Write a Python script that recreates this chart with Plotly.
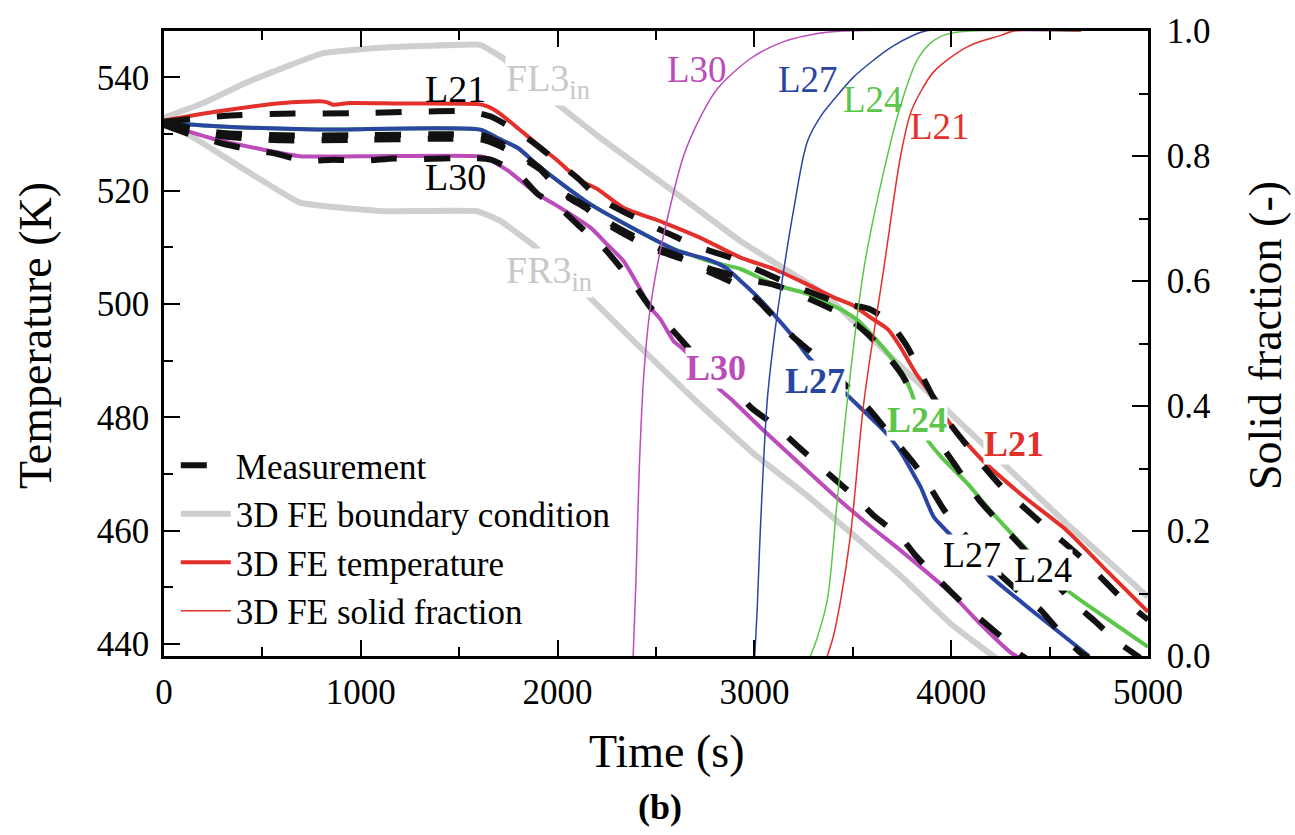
import plotly.graph_objects as go

# ---------------- data (time in s, temperature in K, solid fraction -) ----------------
# 3D FE boundary conditions
fl3_t = [0, 200, 400, 605, 809, 1114, 1592, 1623, 1724, 1948, 2218, 2589, 2930, 3352, 3700, 3981, 4586, 5000]
fl3_T = [532.9, 535.5, 538.8, 541.7, 544.3, 545.3, 545.8, 545.5, 543.4, 536.7, 529.3, 519.9, 511.1, 501.8, 490.5, 481.2, 461.3, 448.3]
fr3_t = [0, 183, 692, 1114, 1592, 1709, 1862, 2000, 2131, 2386, 2691, 3000, 3286, 3744, 4000, 4201, 4230]
fr3_T = [532.4, 528.7, 517.9, 516.4, 516.4, 514.7, 510.8, 506.5, 502.3, 493.5, 483.3, 473.5, 465.7, 452.0, 443.5, 438.2, 437.5]

# 3D FE temperature
l21_t = [0, 268, 605, 793, 830, 860, 946, 1200, 1592, 1643, 1700, 1800, 1897, 2000, 2116, 2203, 2335, 2538, 2726, 2930, 3098, 3250, 3403, 3500, 3591, 3680, 3744, 3820, 3896, 3994, 4160, 4370, 4586, 4800, 5000]
l21_T = [532.4, 534.0, 535.5, 535.8, 535.6, 535.2, 535.5, 535.4, 535.3, 534.9, 533.8, 531.0, 528.2, 525.3, 521.8, 520.3, 517.0, 514.4, 511.7, 508.2, 506.2, 503.8, 501.2, 499.8, 497.6, 495.5, 492.3, 487.8, 484.2, 478.9, 472.4, 466.0, 460.1, 452.6, 445.7]
l24_t = [0, 268, 777, 1607, 1700, 1800, 1900, 2030, 2167, 2350, 2508, 2600, 2700, 2800, 2930, 3098, 3270, 3350, 3454, 3530, 3591, 3650, 3708, 3760, 3794, 3840, 3881, 3950, 4081, 4200, 4370, 4586, 4800, 5000]
l24_T = [532.0, 531.4, 530.8, 530.8, 529.2, 527.5, 524.5, 521.0, 517.6, 514.0, 511.1, 509.6, 508.4, 507.3, 506.2, 503.5, 501.8, 500.5, 498.8, 497.0, 494.8, 492.5, 490.0, 487.3, 484.8, 480.0, 476.0, 473.0, 468.4, 463.5, 457.2, 449.6, 444.3, 439.5]
l27_t = [0, 268, 777, 1607, 1700, 1800, 1900, 2030, 2167, 2350, 2508, 2609, 2762, 2850, 2930, 3010, 3098, 3200, 3276, 3370, 3464, 3560, 3657, 3744, 3800, 3845, 3912, 3998, 4100, 4201, 4400, 4660, 4700]
l27_T = [532.0, 531.4, 530.8, 530.8, 529.2, 527.5, 524.5, 521.0, 517.6, 514.0, 511.1, 509.4, 507.9, 506.5, 504.1, 501.5, 498.2, 494.1, 490.6, 487.4, 484.2, 481.0, 477.7, 473.9, 470.5, 467.7, 462.4, 459.2, 455.3, 451.9, 446.2, 439.0, 437.9]
l30_t = [0, 268, 500, 692, 1000, 1607, 1643, 1750, 1897, 2000, 2167, 2253, 2335, 2406, 2472, 2523, 2589, 2640, 2813, 2879, 3047, 3200, 3423, 3600, 3744, 3998, 4150, 4303, 4350]
l30_T = [531.8, 529.0, 527.3, 526.1, 526.1, 526.1, 525.7, 523.5, 519.4, 517.3, 513.5, 510.5, 507.6, 503.5, 499.4, 497.3, 493.5, 492.0, 485.3, 483.3, 477.7, 472.8, 465.7, 460.5, 456.5, 449.0, 443.5, 438.5, 437.5]

# Measurements
m21_t = [0, 300, 600, 1000, 1550, 1660, 1800, 1900, 2010, 2100, 2220, 2450, 2610, 2730, 2880, 3000, 3150, 3270, 3400, 3500, 3580, 3650, 3710, 3780, 3840, 3910, 4000, 4160, 4250, 4370, 4540, 4660, 4760, 4860, 4960, 5000]
m21_T = [532.2, 533.2, 533.6, 533.7, 534.0, 533.1, 530.4, 527.9, 524.8, 522.3, 518.5, 514.3, 511.7, 509.9, 508.2, 506.3, 504.0, 502.3, 500.6, 499.8, 499.2, 497.8, 495.8, 492.3, 488.2, 483.5, 478.6, 471.6, 468.0, 464.1, 458.9, 455.3, 451.8, 448.3, 445.4, 444.3]
m24_t = [0, 150, 300, 600, 1000, 1400, 1620, 1700, 1810, 1910, 2030, 2150, 2290, 2490, 2630, 2750, 2950, 3100, 3190, 3300, 3400, 3460, 3570, 3650, 3750, 3850, 3920, 3980, 4050, 4140, 4235, 4430, 4625, 4725, 4845, 4960]
m24_T = [532.0, 531.0, 530.2, 529.8, 529.8, 530.0, 529.8, 528.6, 526.5, 524.0, 519.6, 517.2, 513.8, 510.2, 508.3, 506.5, 504.5, 503.4, 502.3, 500.6, 499.0, 498.0, 494.9, 492.0, 487.5, 481.0, 476.5, 473.6, 470.1, 465.5, 461.8, 454.5, 447.2, 444.2, 440.4, 437.6]
m27_t = [0, 150, 300, 600, 1000, 1400, 1620, 1700, 1810, 1910, 2030, 2150, 2290, 2490, 2630, 2750, 2900, 3000, 3120, 3200, 3300, 3400, 3500, 3600, 3700, 3810, 3880, 3965, 4050, 4150, 4250, 4355, 4455, 4575, 4660, 4700]
m27_T = [531.8, 530.8, 529.6, 528.9, 529.0, 529.2, 529.0, 528.0, 526.0, 523.8, 519.4, 516.8, 513.3, 509.7, 508.0, 506.0, 503.6, 501.2, 497.0, 494.1, 491.2, 487.8, 484.5, 480.8, 476.5, 471.9, 468.4, 463.6, 460.1, 456.0, 452.2, 448.9, 446.0, 441.2, 438.4, 437.5]
m30_t = [0, 130, 300, 420, 575, 710, 860, 1010, 1170, 1300, 1540, 1660, 1800, 1900, 2030, 2100, 2233, 2386, 2472, 2574, 2700, 2894, 2981, 3118, 3199, 3301, 3398, 3515, 3606, 3744, 3810, 3912, 4014, 4125, 4227, 4293, 4338, 4380]
m30_T = [531.6, 530.0, 528.3, 527.4, 526.5, 525.3, 525.5, 525.3, 525.7, 525.6, 525.8, 525.5, 523.0, 519.4, 516.4, 514.1, 510.0, 503.6, 499.4, 495.8, 491.0, 485.3, 481.8, 478.2, 475.6, 472.4, 469.4, 465.9, 462.7, 458.9, 456.0, 452.2, 448.7, 445.1, 442.1, 440.2, 438.5, 437.5]

# 3D FE solid fraction
f30_t = [2384, 2398, 2415, 2438, 2468, 2510, 2558, 2640, 2730, 2813, 2981, 3149, 3321, 3450, 4660]
f30_v = [0.0, 0.12, 0.30, 0.45, 0.55, 0.63, 0.70, 0.80, 0.865, 0.908, 0.956, 0.983, 0.996, 1.0, 1.0]
f27_t = [3002, 3015, 3030, 3065, 3098, 3133, 3201, 3269, 3340, 3403, 3500, 3600, 3700, 3800, 3870, 4660]
f27_v = [0.0, 0.08, 0.20, 0.408, 0.504, 0.584, 0.717, 0.823, 0.865, 0.89, 0.925, 0.952, 0.975, 0.992, 1.0, 1.0]
f24_t = [3285, 3320, 3370, 3421, 3472, 3556, 3657, 3744, 3830, 3912, 4008, 4660]
f24_v = [0.0, 0.03, 0.089, 0.249, 0.408, 0.619, 0.775, 0.882, 0.955, 0.985, 0.997, 1.0]
f21_t = [3370, 3400, 3438, 3489, 3557, 3657, 3744, 3795, 3840, 3912, 4084, 4252, 4320, 4660]
f21_v = [0.0, 0.03, 0.089, 0.195, 0.408, 0.619, 0.802, 0.87, 0.90, 0.935, 0.975, 0.993, 1.0, 1.0]

# ---------------- styles ----------------
RED = "#e3302a"
GREEN = "#5cc64b"
BLUE = "#2b45a3"
MAG = "#bb4cba"
GRAY = "#cfcfcf"
FONT = "Liberation Serif"
DASH = "26px,27px"

fig = go.Figure()

def add(x, y, color, width, name=None, legend=False, dash=None, yaxis="y", rank=None, smooth=0.6):
    fig.add_trace(go.Scatter(
        x=x, y=y, mode="lines", yaxis=yaxis,
        line=dict(color=color, width=width, dash=dash, shape="spline", smoothing=smooth),
        name=name, showlegend=legend, legendrank=rank if rank else 1000,
        hoverinfo="skip"))

add(fl3_t, fl3_T, GRAY, 6, "3D FE boundary condition", True, rank=2, smooth=0.3)
add(fr3_t, fr3_T, GRAY, 6, smooth=0.3)
add(l30_t, l30_T, MAG, 4)
add(l24_t, l24_T, GREEN, 4)
add(l27_t, l27_T, BLUE, 4)
add(l21_t, l21_T, RED, 4, "3D FE temperature", True, rank=3)
add(m30_t, m30_T, "#111111", 6, dash=DASH)
add(m27_t, m27_T, "#111111", 6, dash=DASH)
add(m24_t, m24_T, "#111111", 6, dash=DASH)
add(m21_t, m21_T, "#111111", 6, "Measurement", True, dash=DASH, rank=1)
add(f30_t, f30_v, MAG, 1.5, yaxis="y2", smooth=0.9)
add(f27_t, f27_v, BLUE, 1.5, yaxis="y2", smooth=0.9)
add(f24_t, f24_v, GREEN, 1.5, yaxis="y2", smooth=0.9)
add(f21_t, f21_v, RED, 1.5, "3D FE solid fraction", True, yaxis="y2", rank=4, smooth=0.9)

tickfont = dict(family=FONT, size=35, color="black")

fig.update_layout(
    width=1295, height=835,
    margin=dict(l=164, r=147, t=29, b=179),
    paper_bgcolor="white", plot_bgcolor="white",
    font=dict(family=FONT, color="black"),
    showlegend=True,
    legend=dict(x=0.012, y=0.352, xanchor="left", yanchor="top",
                bgcolor="rgba(0,0,0,0)", font=dict(family=FONT, size=35, color="black"),
                tracegroupgap=0, itemwidth=50),
    xaxis=dict(range=[0, 5000], tickvals=[0, 1000, 2000, 3000, 4000, 5000],
               ticks="inside", ticklen=16, tickwidth=2, tickcolor="black",
               minor=dict(dtick=500, ticks="inside", ticklen=9, tickwidth=2, tickcolor="black"),
               showline=True, linewidth=2.5, linecolor="black", mirror="ticks",
               showgrid=False, zeroline=False, tickfont=tickfont, ticklabelstandoff=3),
    yaxis=dict(range=[437.9, 548.2], tickvals=[440, 460, 480, 500, 520, 540],
               ticks="inside", ticklen=16, tickwidth=2, tickcolor="black",
               minor=dict(dtick=10, ticks="inside", ticklen=9, tickwidth=2, tickcolor="black"),
               showline=True, linewidth=2.5, linecolor="black",
               showgrid=False, zeroline=False, tickfont=tickfont, ticklabelstandoff=5),
    yaxis2=dict(range=[0, 1], overlaying="y", side="right",
                tickvals=[0, 0.2, 0.4, 0.6, 0.8, 1.0], tickformat=".1f",
                ticks="inside", ticklen=16, tickwidth=2, tickcolor="black",
                minor=dict(dtick=0.1, ticks="inside", ticklen=9, tickwidth=2, tickcolor="black"),
                showline=True, linewidth=2.5, linecolor="black",
                showgrid=False, zeroline=False, tickfont=tickfont, ticklabelstandoff=9),
)

def label(t, T, text, color, size, bold=False, bg=None, xanchor="center"):
    fig.add_annotation(x=t, y=T, xref="x", yref="y", text=f"<b>{text}</b>" if bold else text,
                       showarrow=False, xanchor=xanchor, yanchor="middle",
                       font=dict(family=FONT, size=size, color=color),
                       bgcolor=bg, borderpad=0)

label(1479, 537.9, "L21", "black", 38)
label(1479, 522.4, "L30", "black", 38)
label(1733, 539.3, "FL3<sub>in</sub>", "#c8c8c8", 38, bg="white", xanchor="left")
label(1733, 505.5, "FR3<sub>in</sub>", "#c8c8c8", 38, bg="white", xanchor="left")
label(2708, 541.4, "L30", MAG, 37)
label(3272, 539.7, "L27", BLUE, 37)
label(3603, 536.1, "L24", GREEN, 37)
label(3943, 531.4, "L21", RED, 37)
label(2805, 488.8, "L30", MAG, 36, bold=True, bg="white")
label(3308, 486.5, "L27", BLUE, 36, bold=True, bg="white")
label(3826, 479.5, "L24", GREEN, 36, bold=True, bg="white")
label(4319, 475.4, "L21", RED, 36, bold=True, bg="white")
label(4106, 455.7, "L27", "black", 36, bg="white")
label(4467, 453.0, "L24", "black", 36, bg="white")

def ptext(x, y, text, size, angle=0, bold=False):
    fig.add_annotation(x=x, y=y, xref="paper", yref="paper", text=f"<b>{text}</b>" if bold else text,
                       showarrow=False, xanchor="center", yanchor="middle", textangle=angle,
                       font=dict(family=FONT, size=size, color="black"))

ptext(0.511, -0.153, "Time (s)", 46)
ptext(-0.131, 0.512, "Temperature (K)", 46, angle=-90)
ptext(1.119, 0.512, "Solid fraction (-)", 46, angle=-90)
ptext(0.504, -0.242, "(b)", 36, bold=True)

fig.write_html("out.html")
